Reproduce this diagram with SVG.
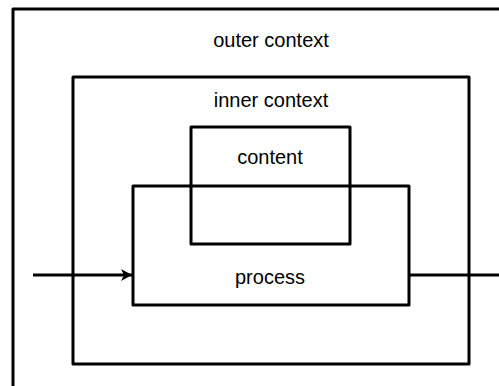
<svg xmlns="http://www.w3.org/2000/svg" width="499" height="386" viewBox="0 0 499 386">
  <style>
    .box { fill: none; stroke: #000; stroke-width: 3; stroke-linejoin: round; }
    .wire { fill: none; stroke: #000; stroke-width: 3; }
    .label { font-family: "Liberation Sans", Arial, sans-serif; font-size: 20px; fill: #000; text-anchor: middle; }
  </style>
  <defs>
    <marker id="arrow" markerUnits="userSpaceOnUse" markerWidth="14" markerHeight="14" refX="12" refY="7" orient="auto">
      <path d="M1,1 L12,7 L1,13 L4,7 Z" fill="#000"/>
    </marker>
  </defs>
  <rect width="499" height="386" fill="#fff"/>

  <g id="outer-context">
    <rect class="box" x="13" y="9" width="500" height="400"/>
    <text class="label" x="271" y="47">outer context</text>
  </g>

  <g id="inner-context">
    <rect class="box" x="73" y="77" width="396" height="287"/>
    <text class="label" x="271" y="107">inner context</text>
  </g>

  <g id="content">
    <rect class="box" x="191" y="127" width="159" height="117"/>
    <text class="label" x="270" y="164">content</text>
  </g>

  <g id="process">
    <rect class="box" x="133" y="186" width="276" height="119"/>
    <text class="label" x="270" y="284">process</text>
  </g>

  <g id="connectors">
    <path class="wire" d="M33,275 L132,275" marker-end="url(#arrow)"/>
    <path class="wire" d="M409,275 L499,275"/>
  </g>
</svg>
